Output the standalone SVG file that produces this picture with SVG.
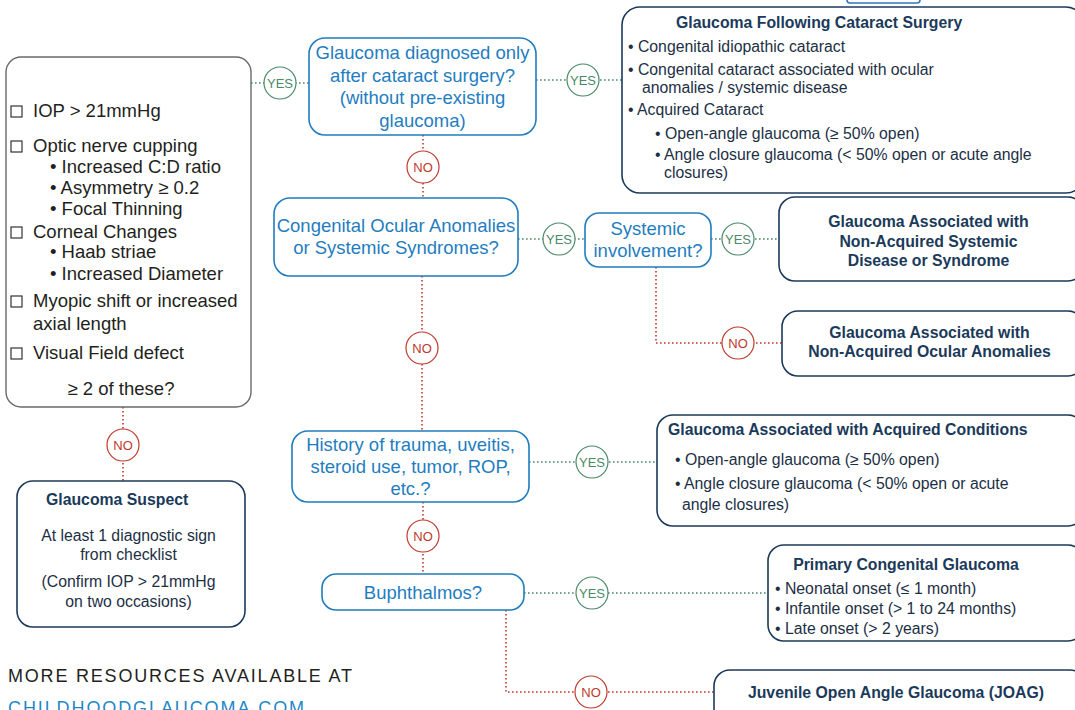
<svg xmlns="http://www.w3.org/2000/svg" width="1075" height="710" viewBox="0 0 1075 710">
<style>
text{font-family:"Liberation Sans",Arial,Helvetica,sans-serif}
.chk{fill:none;stroke:#6a6a6a;stroke-width:1.4}
.cb{fill:none;stroke:#333;stroke-width:1.2}
.ct{font-size:18.5px;fill:#231f20}
.q{fill:#fff;stroke:#1f7dbf;stroke-width:1.6}
.qt{font-size:18.5px;fill:#1f7dbf;text-anchor:middle}
.n{fill:#fff;stroke:#1b3a5a;stroke-width:1.6}
.nb{font-size:15.8px;font-weight:bold;fill:#1b3a5a}
.nt{font-size:15.8px;fill:#1c2f45}
.c{text-anchor:middle}
.y{fill:none;stroke:#4a8a68;stroke-width:1.6;stroke-dasharray:1.6 2.4}
.r{fill:none;stroke:#c0392b;stroke-width:1.6;stroke-dasharray:1.6 2.4}
.yc{fill:#fff;stroke:#4a8a68;stroke-width:1.2}
.rc{fill:#fff;stroke:#c0392b;stroke-width:1.2}
.yt{font-size:13px;fill:#4a8a68;text-anchor:middle}
.rt{font-size:13px;fill:#c0392b;text-anchor:middle}
</style>
<rect width="1075" height="710" fill="#fff"/>

<g id="connectors">
  <line class="y" x1="251" y1="83" x2="309" y2="83"/>
  <line class="y" x1="536" y1="80" x2="622" y2="80"/>
  <line class="r" x1="423" y1="135" x2="423" y2="198"/>
  <line class="y" x1="518" y1="239" x2="585" y2="239"/>
  <line class="y" x1="711" y1="239" x2="779" y2="239"/>
  <polyline class="r" points="656,267 656,343 782,343"/>
  <line class="r" x1="422" y1="276" x2="422" y2="431"/>
  <line class="y" x1="529" y1="462" x2="657" y2="462"/>
  <line class="r" x1="423" y1="502" x2="423" y2="574"/>
  <line class="y" x1="524" y1="593" x2="768" y2="593"/>
  <polyline class="r" points="506,610 506,692 714,692"/>
  <line class="r" x1="123" y1="407" x2="123" y2="481"/>
  <g id="labels">
    <circle class="yc" cx="280" cy="83" r="16"/><text class="yt" x="280" y="88">YES</text>
    <circle class="yc" cx="583" cy="80" r="16"/><text class="yt" x="583" y="85">YES</text>
    <circle class="rc" cx="423" cy="167" r="16"/><text class="rt" x="423" y="172">NO</text>
    <circle class="yc" cx="559" cy="239" r="16"/><text class="yt" x="559" y="244">YES</text>
    <circle class="yc" cx="738" cy="239" r="16"/><text class="yt" x="738" y="244">YES</text>
    <circle class="rc" cx="738" cy="343" r="16"/><text class="rt" x="738" y="348">NO</text>
    <circle class="rc" cx="422" cy="348" r="16"/><text class="rt" x="422" y="353">NO</text>
    <circle class="yc" cx="592" cy="462" r="16"/><text class="yt" x="592" y="467">YES</text>
    <circle class="rc" cx="423" cy="536" r="16"/><text class="rt" x="423" y="541">NO</text>
    <circle class="yc" cx="592" cy="593" r="16"/><text class="yt" x="592" y="598">YES</text>
    <circle class="rc" cx="591" cy="692" r="16"/><text class="rt" x="591" y="697">NO</text>
    <circle class="rc" cx="123" cy="445" r="16"/><text class="rt" x="123" y="450">NO</text>
  </g>
</g>

<g id="top-partial">
  <rect x="847" y="-30" width="73" height="33" rx="3" fill="#fff" stroke="#2e78b8" stroke-width="1.6"/>
</g>

<g id="checklist">
  <rect class="chk" x="6" y="57" width="245" height="350" rx="15"/>
  <rect class="cb" x="11" y="106" width="11" height="11"/>
  <rect class="cb" x="11" y="141" width="11" height="11"/>
  <rect class="cb" x="11" y="227" width="11" height="11"/>
  <rect class="cb" x="11" y="296" width="11" height="11"/>
  <rect class="cb" x="11" y="348" width="11" height="11"/>
  <text class="ct" x="33" y="117">IOP &gt; 21mmHg</text>
  <text class="ct" x="33" y="152">Optic nerve cupping</text>
  <text class="ct" x="50" y="173">• Increased C:D ratio</text>
  <text class="ct" x="50" y="194">• Asymmetry ≥ 0.2</text>
  <text class="ct" x="50" y="215">• Focal Thinning</text>
  <text class="ct" x="33" y="238">Corneal Changes</text>
  <text class="ct" x="50" y="258">• Haab striae</text>
  <text class="ct" x="50" y="280">• Increased Diameter</text>
  <text class="ct" x="33" y="307">Myopic shift or increased</text>
  <text class="ct" x="33" y="330">axial length</text>
  <text class="ct" x="33" y="359">Visual Field defect</text>
  <text class="ct c" x="121" y="395">≥ 2 of these?</text>
</g>

<g id="q-cataract">
  <rect class="q" x="309" y="38" width="227" height="97" rx="16"/>
  <text class="qt" x="422.5" y="59">Glaucoma diagnosed only</text>
  <text class="qt" x="422.5" y="81.5">after cataract surgery?</text>
  <text class="qt" x="422.5" y="104">(without pre-existing</text>
  <text class="qt" x="422.5" y="126.5">glaucoma)</text>
</g>

<g id="following-cataract">
  <rect class="n" x="622" y="7" width="462" height="186" rx="18"/>
  <text class="nb" x="676" y="28">Glaucoma Following Cataract Surgery</text>
  <text class="nt" x="628" y="52">• Congenital idiopathic cataract</text>
  <text class="nt" x="628" y="75">• Congenital cataract associated with ocular</text>
  <text class="nt" x="642" y="93">anomalies / systemic disease</text>
  <text class="nt" x="628" y="115">• Acquired Cataract</text>
  <text class="nt" x="655" y="139">• Open-angle glaucoma (≥ 50% open)</text>
  <text class="nt" x="655" y="160">• Angle closure glaucoma (&lt; 50% open or acute angle</text>
  <text class="nt" x="664" y="178">closures)</text>
</g>

<g id="q-congenital">
  <rect class="q" x="274" y="198" width="244" height="78" rx="16"/>
  <text class="qt" x="396" y="232">Congenital Ocular Anomalies</text>
  <text class="qt" x="396" y="254">or Systemic Syndromes?</text>
</g>

<g id="q-systemic">
  <rect class="q" x="585" y="213" width="126" height="54" rx="14"/>
  <text class="qt" x="648" y="235">Systemic</text>
  <text class="qt" x="648" y="257">involvement?</text>
</g>

<g id="nonacq-systemic">
  <rect class="n" x="779" y="197" width="305" height="84" rx="16"/>
  <text class="nb c" x="928.5" y="226.5">Glaucoma Associated with</text>
  <text class="nb c" x="928.5" y="246.5">Non-Acquired Systemic</text>
  <text class="nb c" x="928.5" y="266">Disease or Syndrome</text>
</g>

<g id="nonacq-ocular">
  <rect class="n" x="782" y="311" width="302" height="65" rx="16"/>
  <text class="nb c" x="929.5" y="337.5">Glaucoma Associated with</text>
  <text class="nb c" x="929.5" y="357">Non-Acquired Ocular Anomalies</text>
</g>

<g id="q-history">
  <rect class="q" x="292" y="431" width="237" height="71" rx="16"/>
  <text class="qt" x="410.5" y="450.5">History of trauma, uveitis,</text>
  <text class="qt" x="410.5" y="472.5">steroid use, tumor, ROP,</text>
  <text class="qt" x="410.5" y="494.5">etc.?</text>
</g>

<g id="acquired">
  <rect class="n" x="657" y="415" width="427" height="111" rx="16"/>
  <text class="nb" x="668" y="434.5">Glaucoma Associated with Acquired Conditions</text>
  <text class="nt" x="675" y="465">• Open-angle glaucoma (≥ 50% open)</text>
  <text class="nt" x="675" y="489">• Angle closure glaucoma (&lt; 50% open or acute</text>
  <text class="nt" x="682" y="510">angle closures)</text>
</g>

<g id="q-buphthalmos">
  <rect class="q" x="322" y="574" width="202" height="36" rx="14"/>
  <text class="qt" x="423" y="599">Buphthalmos?</text>
</g>

<g id="pcg">
  <rect class="n" x="768" y="545" width="316" height="96" rx="16"/>
  <text class="nb c" x="906" y="570">Primary Congenital Glaucoma</text>
  <text class="nt" x="775" y="594">• Neonatal onset (≤ 1 month)</text>
  <text class="nt" x="775" y="614">• Infantile onset (&gt; 1 to 24 months)</text>
  <text class="nt" x="775" y="634">• Late onset (&gt; 2 years)</text>
</g>

<g id="joag">
  <rect class="n" x="714" y="670" width="372" height="60" rx="16"/>
  <text class="nb c" x="896" y="698">Juvenile Open Angle Glaucoma (JOAG)</text>
</g>

<g id="suspect">
  <rect class="n" x="17" y="481" width="228" height="146" rx="16"/>
  <text class="nb" x="46" y="505">Glaucoma Suspect</text>
  <text class="nt c" x="128.5" y="541">At least 1 diagnostic sign</text>
  <text class="nt c" x="128.5" y="560">from checklist</text>
  <text class="nt c" x="128.5" y="587">(Confirm IOP &gt; 21mmHg</text>
  <text class="nt c" x="128.5" y="607">on two occasions)</text>
</g>

<g id="footer">
  <text x="8" y="682" font-size="18" letter-spacing="1.8" fill="#231f20">MORE RESOURCES AVAILABLE AT</text>
  <text x="8" y="714" font-size="18" letter-spacing="1.9" fill="#1f88c8">CHILDHOODGLAUCOMA.COM</text>
</g>
</svg>
